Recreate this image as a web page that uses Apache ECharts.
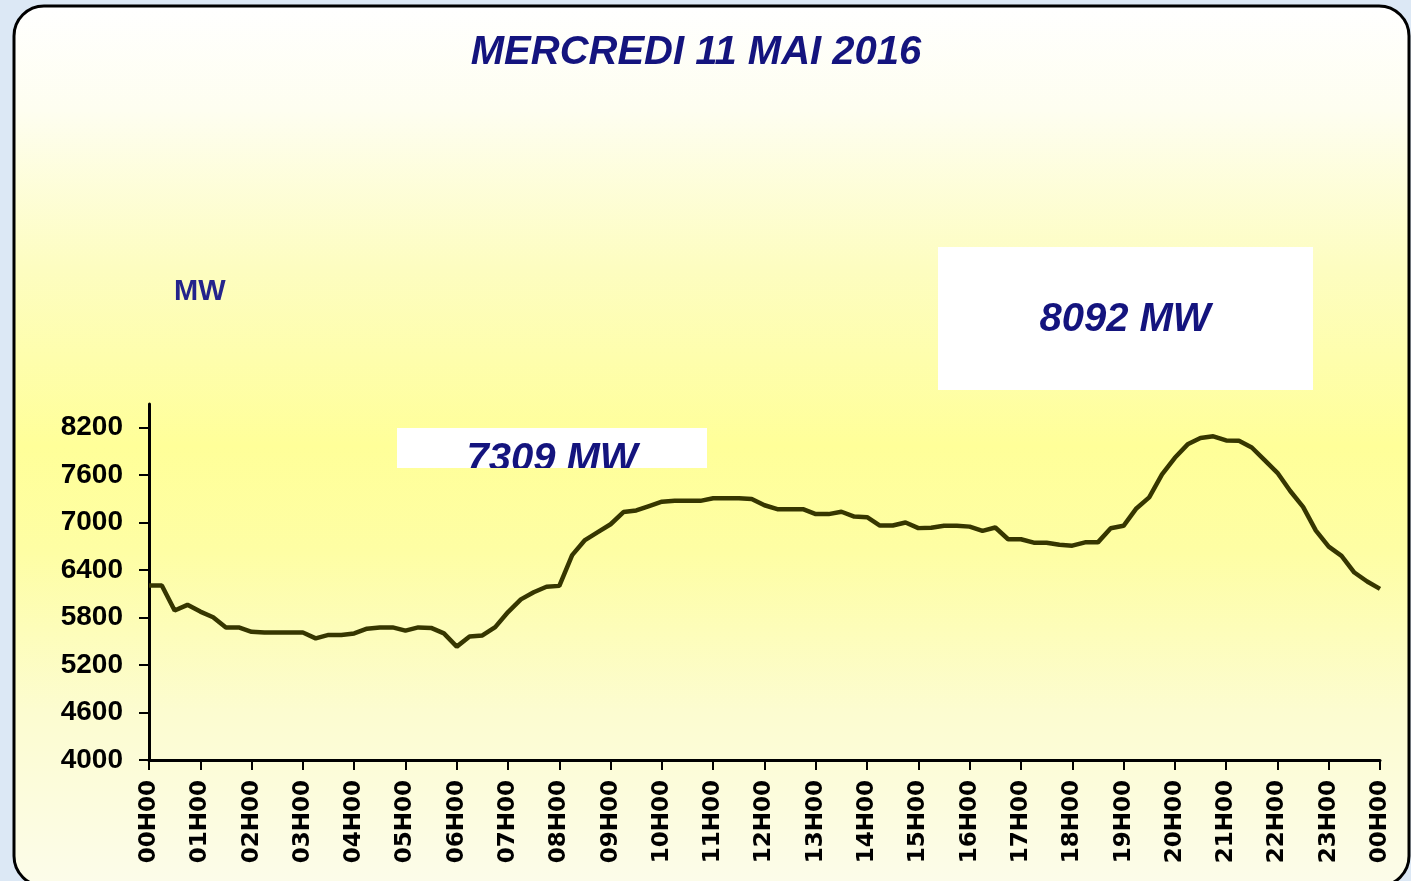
<!DOCTYPE html>
<html>
<head>
<meta charset="utf-8">
<title>MERCREDI 11 MAI 2016</title>
<script src="https://cdn.jsdelivr.net/npm/echarts@6/dist/echarts.min.js"></script>
<style>
  html, body { margin: 0; padding: 0; background: #dce8f5; }
  #chart { width: 1411px; height: 881px; }
</style>
</head>
<body>
<div id="chart"></div>
<script>
// heures affichees sur l'axe x (une tous les 4 points)
var hourLabels = ['00H00', '01H00', '02H00', '03H00', '04H00', '05H00', '06H00', '07H00',
  '08H00', '09H00', '10H00', '11H00', '12H00', '13H00', '14H00', '15H00', '16H00',
  '17H00', '18H00', '19H00', '20H00', '21H00', '22H00', '23H00', '00H00'];

// consommation en MW, un point par quart d'heure (00H00 -> 00H00)
var load = [
  6205, 6205, 5889, 5961, 5876, 5805, 5676, 5676,   // 00H - 01H45
  5620, 5611, 5611, 5611, 5611, 5538, 5581, 5581,   // 02H - 03H45
  5600, 5660, 5676, 5676, 5636, 5676, 5670, 5600,   // 04H - 05H45
  5433, 5560, 5575, 5680, 5870, 6030, 6120, 6190,   // 06H - 07H45
  6201, 6590, 6780, 6880, 6980, 7134, 7155, 7210,   // 08H - 09H45
  7265, 7276, 7276, 7276, 7309, 7309, 7309, 7300,   // 10H - 11H45
  7220, 7171, 7171, 7171, 7108, 7108, 7138, 7077,   // 12H - 13H45
  7070, 6964, 6964, 7002, 6931, 6935, 6960, 6960,   // 14H - 15H45
  6950, 6897, 6939, 6790, 6790, 6747, 6747, 6720,   // 16H - 17H45
  6709, 6751, 6751, 6930, 6960, 7180, 7320, 7610,   // 18H - 19H45
  7820, 7990, 8070, 8092, 8039, 8035, 7950, 7790,   // 20H - 21H45
  7630, 7400, 7200, 6900, 6698, 6580, 6370, 6256,   // 22H - 23H45
  6163
];

var yTicks = [4000, 4600, 5200, 5800, 6400, 7000, 7600, 8200];

var title = 'MERCREDI 11 MAI 2016';
var unit = 'MW';
var minLabel = '7309 MW';
var maxLabel = '8092 MW';

var navy = '#14147e';

var chart = echarts.init(document.getElementById('chart'));

var option = {
  animation: false,
  backgroundColor: 'transparent',
  grid: {
    left: 149,
    right: 31,
    top: 404,
    bottom: 121
  },
  xAxis: {
    type: 'value',
    min: 0,
    max: 96,
    interval: 4,
    axisLine: { lineStyle: { color: '#000', width: 3 } },
    axisTick: { length: 10, lineStyle: { color: '#000', width: 2 } },
    splitLine: { show: false },
    axisLabel: {
      rotate: 90,
      margin: 20,
      color: '#000',
      fontFamily: 'DejaVu Sans',
      fontWeight: 'bold',
      fontSize: 23,
      formatter: function (v) { return hourLabels[v / 4]; }
    }
  },
  yAxis: {
    type: 'value',
    min: 4000,
    max: 8500,
    interval: 600,
    axisLine: { show: true, lineStyle: { color: '#000', width: 3 } },
    axisTick: { show: true, length: 10, customValues: yTicks, lineStyle: { color: '#000', width: 2 } },
    splitLine: { show: false },
    axisLabel: {
      customValues: yTicks,
      margin: 26,
      color: '#000',
      fontFamily: 'Liberation Sans',
      fontWeight: 'bold',
      fontSize: 28,
      formatter: function (v) { return String(v); }
    }
  },
  graphic: [
    {
      type: 'rect',
      z: -10,
      shape: { x: 14, y: 6, width: 1395, height: 880, r: 30 },
      style: {
        stroke: '#000',
        lineWidth: 3,
        fill: new echarts.graphic.LinearGradient(0, 0, 0, 1, [
          { offset: 0, color: '#ffffff' },
          { offset: 0.12, color: '#fefef0' },
          { offset: 0.3, color: '#fdfdc0' },
          { offset: 0.5, color: '#ffff99' },
          { offset: 0.62, color: '#fefea4' },
          { offset: 0.8, color: '#fcfcd0' },
          { offset: 1, color: '#fcfcea' }
        ])
      }
    },
    {
      type: 'text',
      x: 696,
      y: 53,
      style: {
        text: title,
        align: 'center',
        verticalAlign: 'middle',
        font: 'italic bold 40px "Liberation Sans"',
        fill: navy
      }
    },
    {
      type: 'text',
      x: 174,
      y: 292,
      style: {
        text: unit,
        align: 'left',
        verticalAlign: 'middle',
        font: 'bold 29px "Liberation Sans"',
        fill: '#24248c'
      }
    },
    {
      type: 'rect',
      shape: { x: 938, y: 247, width: 375, height: 143 },
      style: { fill: '#ffffff' }
    },
    {
      type: 'text',
      x: 1125,
      y: 320,
      style: {
        text: maxLabel,
        align: 'center',
        verticalAlign: 'middle',
        font: 'italic bold 40px "Liberation Sans"',
        fill: navy
      }
    }
  ],
  series: [
    {
      type: 'line',
      data: load.map(function (v, i) { return [i, v]; }),
      showSymbol: false,
      symbol: 'none',
      lineStyle: { color: '#363600', width: 4.5 },
      z: 5
    }
  ]
};

chart.setOption(option);

// boite du min : texte coupe par le bas de la boite
var box = { x: 397, y: 428, width: 310, height: 40 };
var minGroup = new echarts.graphic.Group();
minGroup.add(new echarts.graphic.Rect({ shape: box, style: { fill: '#ffffff' }, z: 3 }));
minGroup.add(new echarts.graphic.Text({
  style: {
    text: minLabel,
    x: 552,
    y: 460,
    align: 'center',
    verticalAlign: 'middle',
    font: 'italic bold 40px "Liberation Sans"',
    fill: navy
  },
  z: 4
}));
minGroup.setClipPath(new echarts.graphic.Rect({ shape: box }));
chart.getZr().add(minGroup);
</script>
</body>
</html>
